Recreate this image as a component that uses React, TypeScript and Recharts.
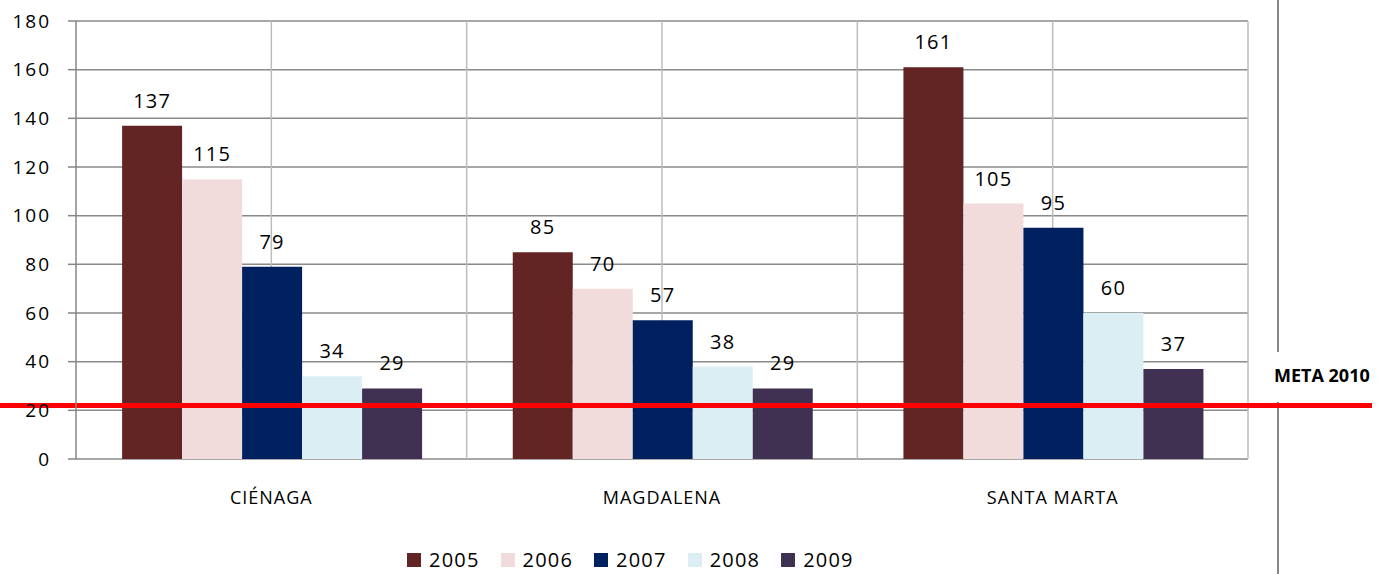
import React from "react";
import {
  Bar,
  BarChart,
  CartesianGrid,
  LabelList,
  Legend,
  ReferenceLine,
  XAxis,
  YAxis,
} from "recharts";

// Municipios y años del indicador
const municipios = ["CIÉNAGA", "MAGDALENA", "SANTA MARTA"];
const anios = ["2005", "2006", "2007", "2008", "2009"];
const colores = ["#632523", "#F2DCDB", "#002060", "#DBEEF3", "#403152"];

const v2005 = [137, 85, 161];
const v2006 = [115, 70, 105];
const v2007 = [79, 57, 95];
const v2008 = [34, 38, 60];
const v2009 = [29, 29, 37];

const yTicks = [0, 20, 40, 60, 80, 100, 120, 140, 160, 180];
const meta2010 = 22;
const metaLabel = "META 2010";

const series = [v2005, v2006, v2007, v2008, v2009];
const data = municipios.map((m, i) => {
  const row: Record<string, string | number> = { municipio: m };
  anios.forEach((a, k) => {
    row[a] = series[k][i];
  });
  return row;
});

const FONT = '"Open Sans", sans-serif';

function LegendBox({ payload }: any) {
  return (
    <div style={{ display: "flex", alignItems: "center", fontFamily: FONT }}>
      {(payload || []).map((p: any) => (
        <div
          key={p.value}
          style={{ display: "flex", alignItems: "center", marginRight: 21 }}
        >
          <span
            style={{
              width: 14,
              height: 14,
              background: p.color,
              display: "inline-block",
              marginRight: 8,
            }}
          />
          <span style={{ fontSize: 20, color: "#000", letterSpacing: 1.2 }}>
            {p.value}
          </span>
        </div>
      ))}
    </div>
  );
}

function MetaLine(props: any) {
  const y = props.y1;
  return (
    <g>
      <line x1={0} x2={1372} y1={y} y2={y} stroke="#FF0000" strokeWidth={5} />
      <text
        x={1274}
        y={y - 23}
        fontFamily={FONT}
        fontWeight="bold"
        fontSize={18}
        fill="#000"
      >
        {metaLabel}
      </text>
    </g>
  );
}

export default function App() {
  return (
    <div
      style={{
        position: "absolute",
        left: 0,
        top: 0,
        width: 1381,
        height: 574,
        background: "#fff",
        fontFamily: FONT,
      }}
    >
      <div
        style={{
          position: "absolute",
          left: 1277,
          top: 0,
          width: 2,
          height: 352,
          background: "#888",
        }}
      />
      <div
        style={{
          position: "absolute",
          left: 1277,
          top: 402,
          width: 2,
          height: 172,
          background: "#888",
        }}
      />
      <BarChart
        width={1381}
        height={574}
        data={data}
        margin={{ top: 21, right: 133, left: 0, bottom: 55 }}
        barCategoryGap="11.8%"
        barGap={0}
      >
        <CartesianGrid
          vertical={false}
          stroke="#8a8a8a"
          strokeWidth={1.5}
        />
        <CartesianGrid
          horizontal={false}
          stroke="#bdbdbd"
          strokeWidth={1.5}
          verticalCoordinatesGenerator={({ offset }: any) =>
            [0.5, 1, 1.5, 2, 2.5, 3].map(
              (k) => offset.left + (k * offset.width) / 3
            )
          }
        />
        <XAxis
          xAxisId="bordes"
          type="number"
          domain={[0, 3]}
          ticks={[0, 1, 2, 3]}
          tick={false}
          tickSize={7}
          height={0}
          axisLine={{ stroke: "#868686", strokeWidth: 1.5 }}
          tickLine={{ stroke: "#868686", strokeWidth: 1.5 }}
        />
        <XAxis
          dataKey="municipio"
          axisLine={false}
          tickLine={false}
          tickSize={0}
          tickMargin={32}
          height={60}
          tick={{ fill: "#000", fontSize: 18, letterSpacing: 1 }}
        />
        <YAxis
          domain={[0, 180]}
          ticks={yTicks}
          width={76}
          tickSize={8}
          tickMargin={17}
          axisLine={{ stroke: "#868686", strokeWidth: 1.5 }}
          tickLine={{ stroke: "#868686", strokeWidth: 1.5 }}
          tick={{ fill: "#000", fontSize: 19, letterSpacing: 2 }}
        />
        <Legend
          verticalAlign="middle"
          layout="horizontal"
          align="center"
          wrapperStyle={{ top: 546, left: 407, width: "auto" }}
          content={<LegendBox />}
        />
        {anios.map((a, k) => (
          <Bar
            key={a}
            dataKey={a}
            name={a}
            fill={colores[k]}
            isAnimationActive={false}
          >
            <LabelList
              dataKey={a}
              position="top"
              offset={18}
              fill="#000"
              fontSize={20}
              style={{ letterSpacing: 1.2 }}
            />
          </Bar>
        ))}
        <ReferenceLine y={meta2010} shape={<MetaLine />} />
      </BarChart>
    </div>
  );
}
